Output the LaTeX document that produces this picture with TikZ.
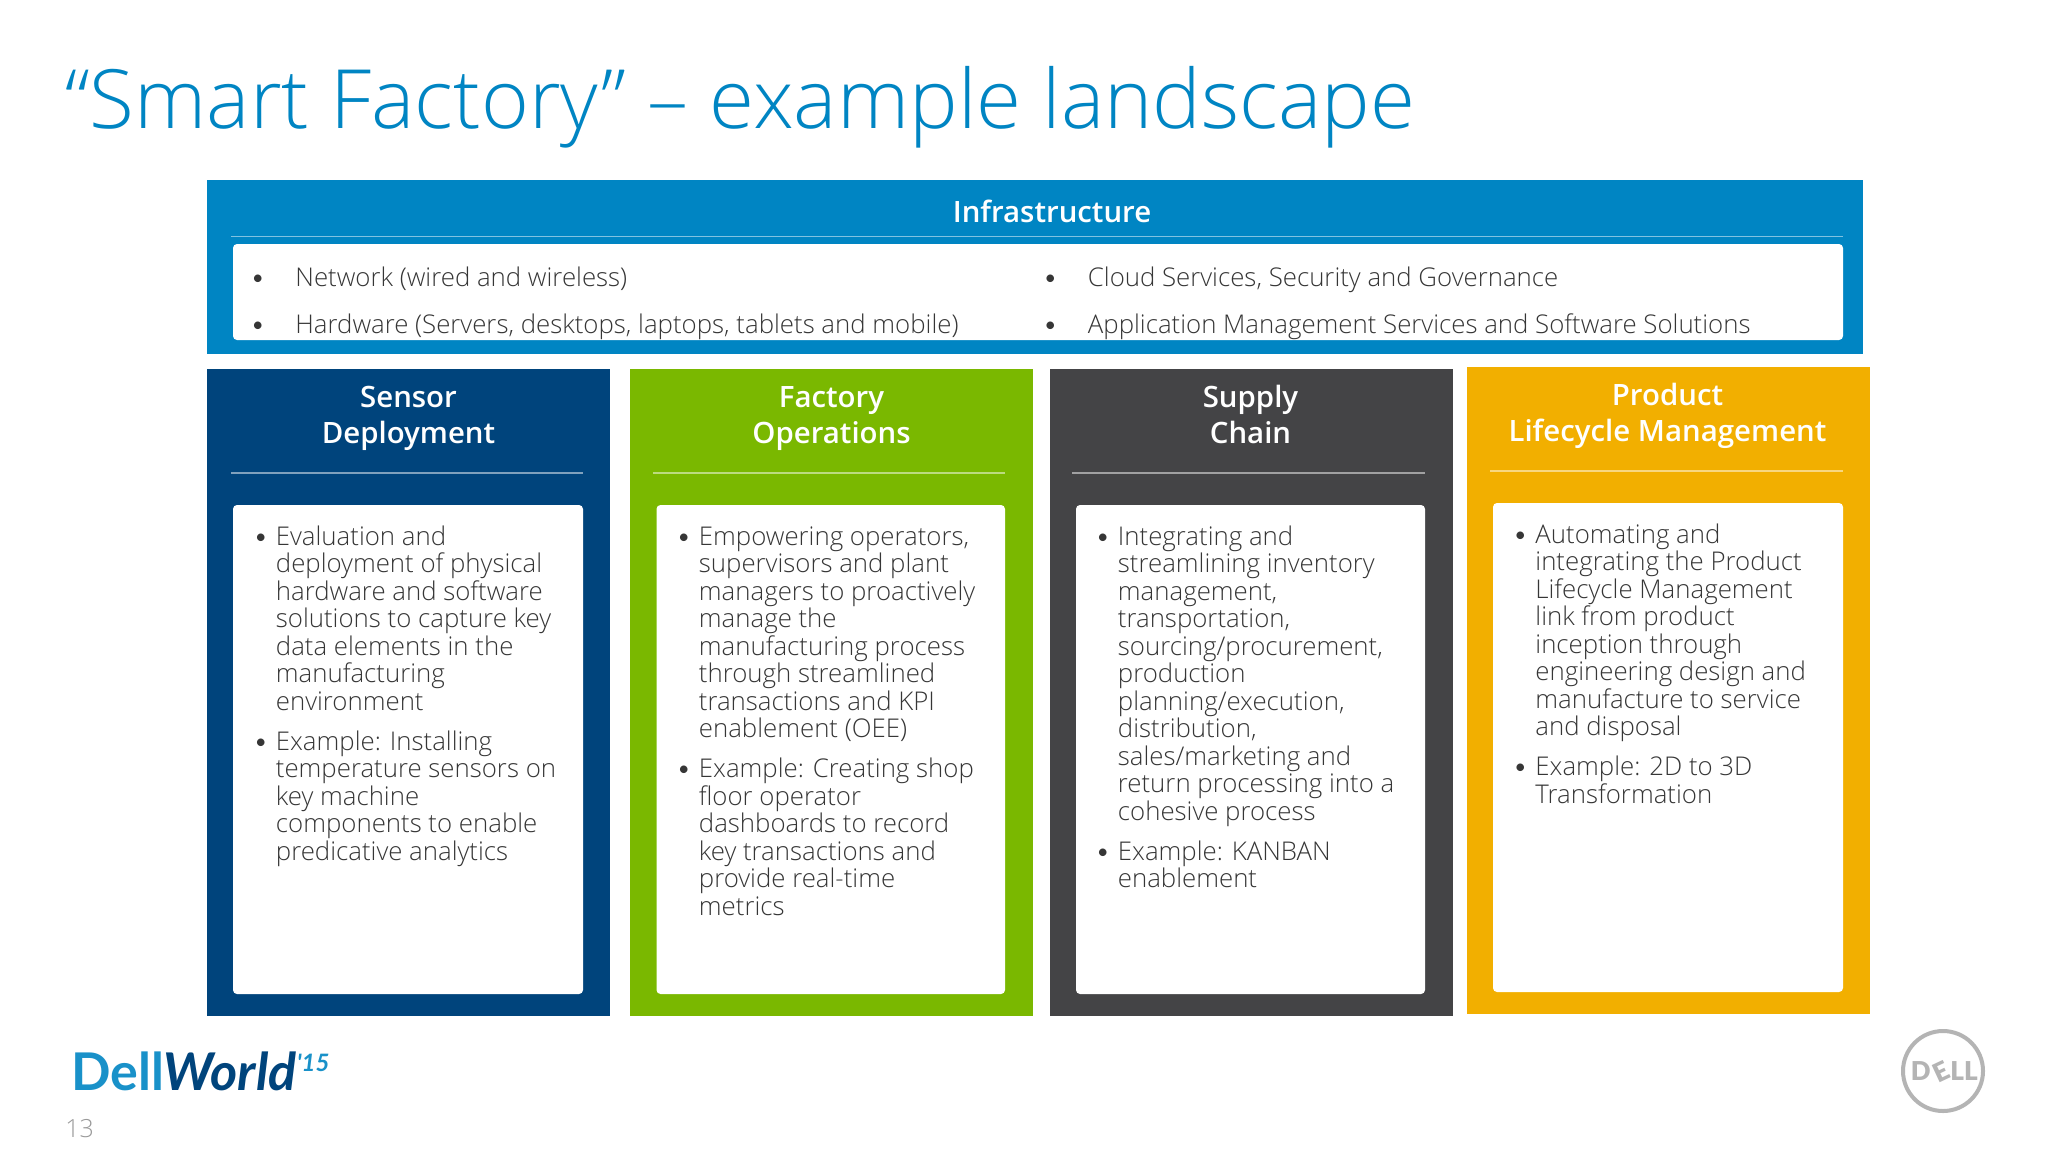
\documentclass[tikz,border=0pt]{standalone}
\usepackage{fontspec}
\setmainfont{Open Sans Light}
\newfontfamily\medf{Open Sans Semibold}
\newfontfamily\boldf{Lato Bold}
\newfontfamily\heavyf{Lato Black}
\newfontfamily\bulf{Lato Light}
\definecolor{infrablue}{HTML}{0085C3}
\definecolor{navy}{HTML}{00447C}
\definecolor{leaf}{HTML}{7AB800}
\definecolor{slate}{HTML}{444446}
\definecolor{amber}{HTML}{F2AF00}
\definecolor{bodyink}{HTML}{363636}
\definecolor{logogray}{HTML}{B4B4B4}
\newcommand{\bodysize}{12.9pt}
\newcommand{\bul}[1]{\leavevmode\llap{{\bulf\textbullet}\hspace{#1}}}
\newcommand{\listtext}[1]{\parbox[t]{400pt}{\fontsize{\bodysize}{13.75pt}\selectfont\raggedright #1\par}}
\newcommand{\headtext}[1]{\parbox[t]{190pt}{\fontsize{14.7pt}{17.75pt}\medf\centering #1\par}}
\tikzset{
  card/.style={fill=white,rounded corners=2pt},
  head/.style={text=white,inner sep=0pt,anchor=base},
  listnode/.style={text=bodyink,inner sep=0pt,anchor=base west},
  rulewhite/.style={line width=0.6pt,white,opacity=0.5}
}
\begin{document}
\begin{tikzpicture}[x=0.5pt,y=-0.5pt]
\useasboundingbox (0,0) rectangle (2048,1152);
\fill[white] (0,0) rectangle (2048,1152);
% title
\node[anchor=base west,inner sep=0pt,text=infrablue,font=\fontsize{40.9pt}{44pt}\selectfont] (title) at (65,128) {“Smart Factory” – example landscape};
% infrastructure
\fill[infrablue] (207,180) rectangle (1863,354);
\draw[rulewhite] (231,236.5) -- (1843,236.5);
\fill[card] (233,244) rectangle (1843,340);
\node[head] (infra) at (1052,222) {\headtext{Infrastructure}};
\node[listnode] (i1) at (295,286) {\listtext{\bul{15pt}Network (wired and wireless)}};
\node[listnode] (i2) at (295,333) {\listtext{\bul{15pt}Hardware (Servers, desktops, laptops, tablets and mobile)}};
\node[listnode] (i3) at (1087.5,286) {\listtext{\bul{15pt}Cloud Services, Security and Governance}};
\node[listnode] (i4) at (1087.5,333) {\listtext{\bul{15pt}Application Management Services and Software Solutions}};
% sensor
\fill[navy] (207,369) rectangle (610,1016);
\draw[rulewhite] (231,473) -- (583,473);
\fill[card] (233,505) rectangle (583,994);
\node[head] (h1) at (408.5,407.5) {\headtext{Sensor\\Deployment}};
\node[listnode] (l1) at (275.5,545) {\listtext{\bul{3.8pt}Evaluation and\\deployment of physical\\hardware and software\\solutions to capture key\\data elements in the\\manufacturing\\environment\\[6.25pt]
\bul{3.8pt}Example: Installing\\temperature sensors on\\key machine\\components to enable\\predicative analytics}};
% factory
\fill[leaf] (630,369) rectangle (1033,1016);
\draw[rulewhite] (653,473) -- (1005,473);
\fill[card] (656.5,505) rectangle (1005,994);
\node[head] (h2) at (831.5,407.5) {\headtext{Factory\\Operations}};
\node[listnode] (l2) at (698.5,545) {\listtext{\bul{3.8pt}Empowering operators,\\supervisors and plant\\managers to proactively\\manage the\\manufacturing process\\through streamlined\\transactions and KPI\\enablement (OEE)\\[6.25pt]
\bul{3.8pt}Example: Creating shop\\floor operator\\dashboards to record\\key transactions and\\provide real-time\\metrics}};
% supply
\fill[slate] (1049.5,369) rectangle (1453,1016);
\draw[rulewhite] (1072,473) -- (1425,473);
\fill[card] (1076,505) rectangle (1425,994);
\node[head] (h3) at (1250.5,407.5) {\headtext{Supply\\Chain}};
\node[listnode] (l3) at (1117.5,545) {\listtext{\bul{3.8pt}Integrating and\\streamlining inventory\\management,\\transportation,\\sourcing/procurement,\\production\\planning/execution,\\distribution,\\sales/marketing and\\return processing into a\\cohesive process\\[6.25pt]
\bul{3.8pt}Example: KANBAN\\enablement}};
% product
\fill[amber] (1467,367) rectangle (1870,1014);
\draw[rulewhite] (1490,471) -- (1843,471);
\fill[card] (1493,503) rectangle (1843,992);
\node[head] (h4) at (1667.5,405.5) {\headtext{Product\\Lifecycle Management}};
\node[listnode] (l4) at (1535,543) {\listtext{\bul{3.8pt}Automating and\\integrating the Product\\Lifecycle Management\\link from product\\inception through\\engineering design and\\manufacture to service\\and disposal\\[6.25pt]
\bul{3.8pt}Example: 2D to 3D\\Transformation}};
% footer
\node[anchor=base west,inner sep=0pt] (logo) at (71,1090) {\fontsize{26pt}{26pt}\boldf\textcolor{infrablue!90!white}{Dell}\hspace{-0.5pt}\textcolor{navy}{\itshape World}\raisebox{9.5pt}{\fontsize{12pt}{12pt}\selectfont\textcolor{infrablue!90!white}{\itshape '15}}};
\node[anchor=base west,inner sep=0pt,text=black!40,font=\fontsize{12.5pt}{13pt}\selectfont] (page) at (65,1137) {13};
% dell mark
\node[circle,draw=logogray,line width=2pt,minimum size=40pt,inner sep=0pt] (mark) at (1943,1071) {};
\node[inner sep=0pt,text=logogray,font=\fontsize{13pt}{13pt}\heavyf,anchor=base east] (markd) at (1931,1080) {D};
\node[inner sep=0pt,text=logogray,font=\fontsize{13pt}{13pt}\heavyf,rotate=25] (marke) at (1941,1072) {E};
\node[inner sep=0pt,text=logogray,font=\fontsize{13pt}{13pt}\heavyf,anchor=base west] (markl) at (1950,1080) {LL};
\end{tikzpicture}
\end{document}
